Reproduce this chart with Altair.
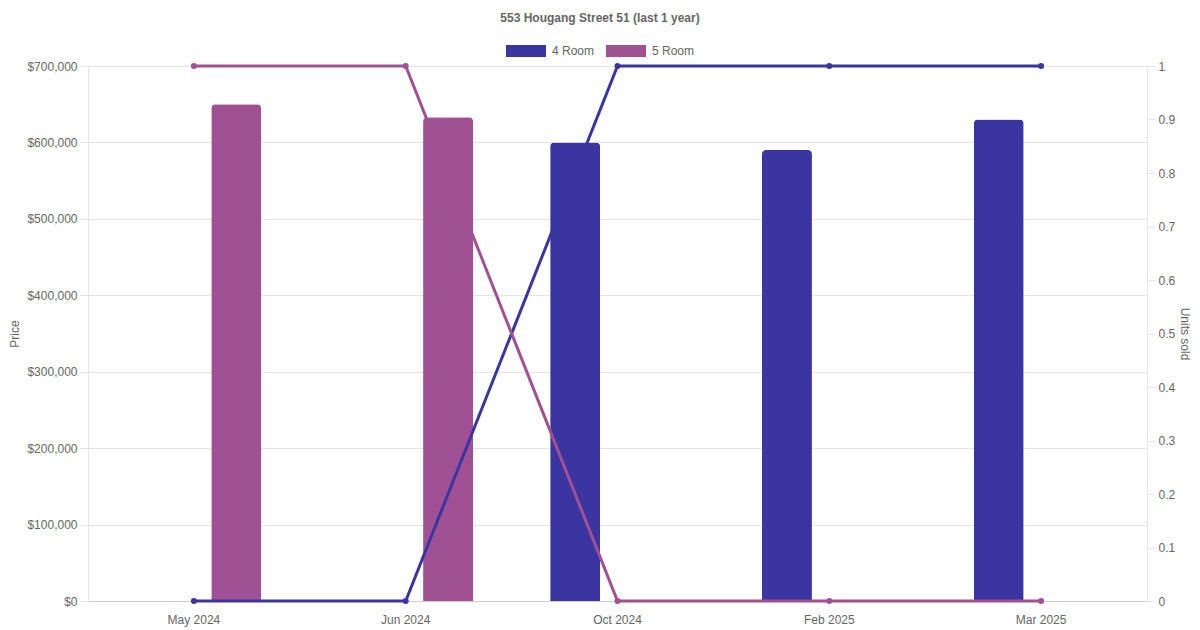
import altair as alt
import pandas as pd

months = ["May 2024", "Jun 2024", "Oct 2024", "Feb 2025", "Mar 2025"]
room_types = ["4 Room", "5 Room"]
price_4room = [None, None, 600000, 590000, 630000]
price_5room = [650000, 633000, None, None, None]
units_4room = [0, 0, 1, 1, 1]
units_5room = [1, 1, 0, 0, 0]
colors = ["#3a35a0", "#a05193"]

rows = []
for i, m in enumerate(months):
    rows.append({"month": m, "room": "4 Room", "price": price_4room[i], "units": units_4room[i]})
    rows.append({"month": m, "room": "5 Room", "price": price_5room[i], "units": units_5room[i]})
df = pd.DataFrame(rows)

FONT = "Liberation Sans"
GREY = "#666666"
GRID = "#e5e5e5"

x_enc = alt.X("month:N", sort=months, scale=alt.Scale(paddingInner=0, paddingOuter=0),
              axis=alt.Axis(title=None, labelAngle=0, ticks=False, grid=False, labelPadding=13,
                            domainColor="#d0d0d0", labelColor=GREY, labelFontSize=12, labelFont=FONT))
color_scale = alt.Scale(domain=room_types, range=colors)

bars = alt.Chart(df).transform_filter("datum.price != null").mark_bar(
    cornerRadiusTopLeft=4, cornerRadiusTopRight=4
).encode(
    x=x_enc,
    xOffset=alt.XOffset("room:N", scale=alt.Scale(domain=room_types, paddingInner=0.41, paddingOuter=0.455)),
    y=alt.Y("price:Q", scale=alt.Scale(domain=[0, 700000], nice=False),
            axis=alt.Axis(title="Price", values=list(range(0, 700001, 100000)), format="$,.0f",
                          tickSize=8, tickColor=GRID, gridColor=GRID, domainColor=GRID,
                          labelPadding=3, labelColor=GREY, labelFontSize=12, labelFont=FONT,
                          titleColor=GREY, titleFontSize=12, titleFont=FONT, titleFontWeight="normal",
                          titleAngle=-90, titleX=-73.5, titleY=267.5, titleAlign="center",
                          titleBaseline="middle")),
    color=alt.Color("room:N", scale=color_scale,
                    legend=alt.Legend(title=None, orient="none", legendX=418, legendY=-35,
                                      direction="horizontal", symbolType="M-1,-0.3H1V0.3H-1Z",
                                      symbolSize=1600, symbolStrokeWidth=0, labelOffset=6,
                                      columnPadding=11, padding=0, labelColor=GREY,
                                      labelFontSize=12, labelFont=FONT)),
)

units_y = alt.Y("units:Q", scale=alt.Scale(domain=[0, 1], nice=False),
                axis=alt.Axis(title="Units sold", orient="right",
                              values=[0, 0.1, 0.2, 0.3, 0.4, 0.5, 0.6, 0.7, 0.8, 0.9, 1],
                              format=".1~f", grid=False, tickSize=8, tickColor=GRID, domainColor=GRID,
                              labelPadding=3, labelColor=GREY, labelFontSize=12, labelFont=FONT,
                              titleColor=GREY, titleFontSize=12, titleFont=FONT, titleFontWeight="normal",
                              titleAngle=90, titleX=37, titleY=267.5, titleAlign="center",
                              titleBaseline="middle"))

lines = alt.Chart(df).mark_line(strokeWidth=3).encode(
    x=alt.X("month:N", sort=months),
    y=units_y,
    color=alt.Color("room:N", scale=color_scale, legend=None),
)
points = alt.Chart(df).mark_point(filled=True, size=36, opacity=1).encode(
    x=alt.X("month:N", sort=months),
    y=alt.Y("units:Q"),
    color=alt.Color("room:N", scale=color_scale, legend=None),
)

line_layer = alt.layer(lines, points)

chart = alt.layer(bars, line_layer).resolve_scale(y="independent").resolve_legend(
    color="independent"
).properties(
    width=1059, height=535,
    autosize=alt.AutoSizeParams(type="none"),
    padding={"left": 80, "top": 58, "right": 45, "bottom": 30},
    title=alt.TitleParams("553 Hougang Street 51 (last 1 year)", font=FONT, fontSize=12,
                          fontWeight="bold", color=GREY, dx=-17.5, offset=6),
).configure_view(stroke=None).configure(background="white")

chart.save("out.html", embed_options={"renderer": "svg", "actions": False})
